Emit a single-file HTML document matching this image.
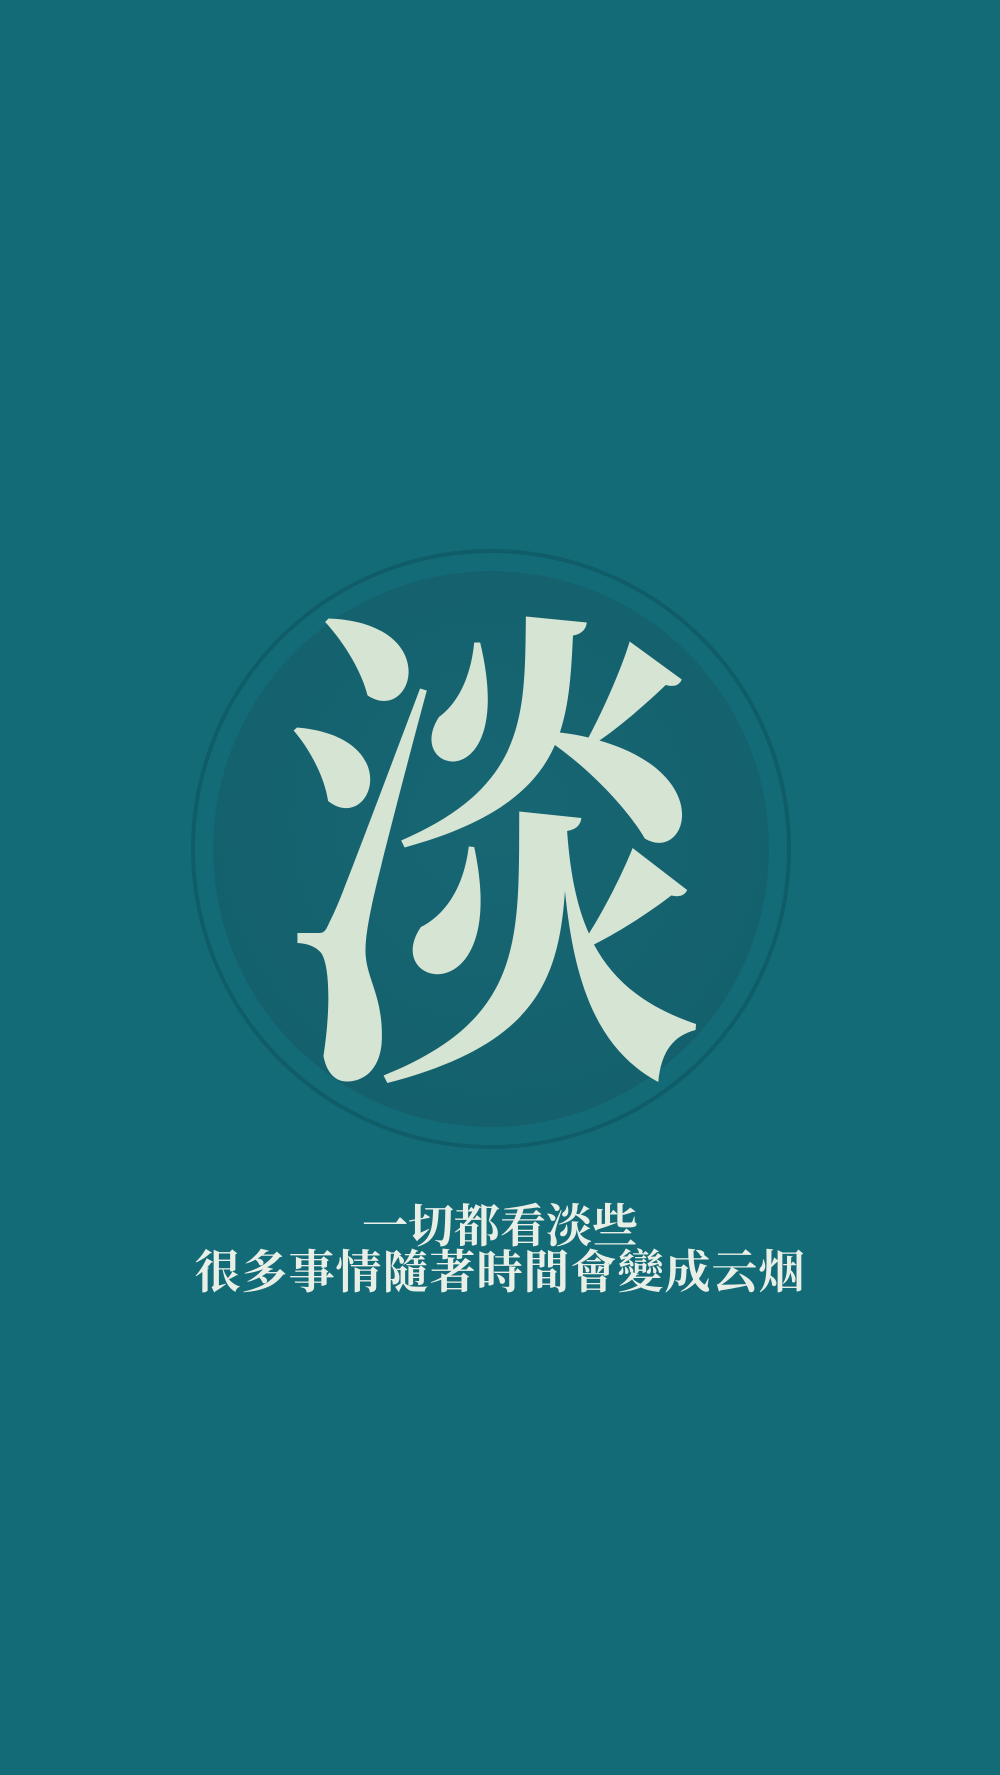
<!DOCTYPE html>
<html><head><meta charset="utf-8"><style>
html,body{margin:0;padding:0}
body{width:1000px;height:1775px;background:#146b78;position:relative;overflow:hidden;font-family:"Liberation Serif","Noto Serif CJK SC",serif}
.ring{position:absolute;left:191px;top:549px;width:600px;height:600px;border-radius:50%;border:4px solid #0f5d69;box-sizing:border-box}
.disc{position:absolute;left:213px;top:571px;width:556px;height:556px;border-radius:50%;background:radial-gradient(circle at 50% 45%,#176673,#135f6b)}
.big{position:absolute;left:-6px;width:1000px;top:552px;text-align:center;font-size:500px;line-height:540px;color:#d6e4d4;font-weight:700;font-family:"Noto Serif CJK SC",serif;transform:scaleX(0.84);transform-origin:500px 50%}
.t{position:absolute;left:0;width:1000px;text-align:center;color:#e8efe6;font-weight:700;font-family:"Noto Serif CJK SC",serif;font-size:46px;line-height:50px}
</style></head><body>
<div class="ring"></div>
<div class="disc"></div>
<div class="big">淡</div>
<div class="t" style="top:1198px">一切都看淡些</div>
<div class="t" style="top:1244px;letter-spacing:1px">很多事情隨著時間會變成云烟</div>
</body></html>
